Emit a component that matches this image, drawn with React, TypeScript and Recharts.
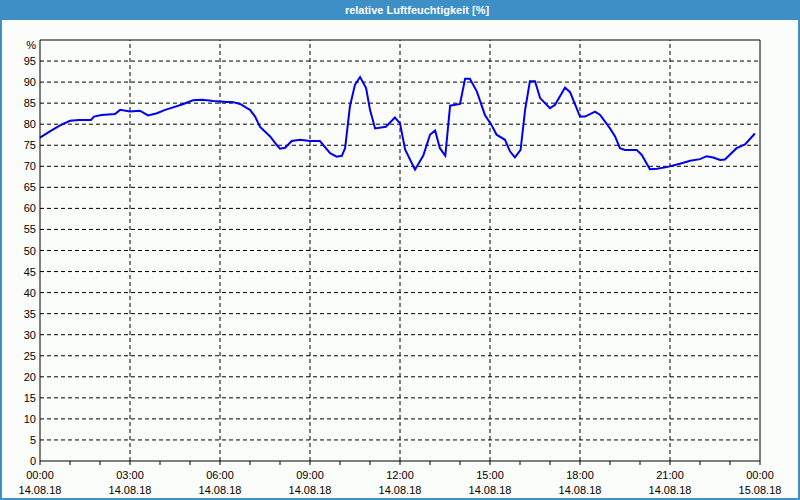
import React from "react";
import {
  LineChart,
  Line,
  XAxis,
  YAxis,
  CartesianGrid,
  ReferenceLine,
} from "recharts";

// Stunden seit 14.08.18 00:00
const hours = [
  0, 0.33, 0.67, 1.0, 1.3, 1.7, 1.8, 2.05, 2.5, 2.67, 3.0, 3.33, 3.6, 3.9, 4.17,
  4.44, 4.78, 5.1, 5.4, 5.78, 6.22, 6.4, 6.67, 6.9, 7.0, 7.17, 7.33, 7.67, 7.9,
  8.0, 8.17, 8.39, 8.67, 9.0, 9.33, 9.67, 9.89, 10.06, 10.17, 10.33, 10.5, 10.67,
  10.87, 11.0, 11.17, 11.53, 11.83, 12.0, 12.17, 12.5, 12.78, 13.0, 13.17, 13.33,
  13.51, 13.67, 14.0, 14.17, 14.33, 14.56, 14.83, 15.05, 15.22, 15.5, 15.67,
  15.83, 16.02, 16.17, 16.33, 16.5, 16.67, 17.0, 17.17, 17.5, 17.67, 18.0, 18.17,
  18.5, 18.67, 19.0, 19.17, 19.33, 19.5, 19.89, 20.06, 20.33, 20.56, 20.89,
  21.33, 21.67, 22.0, 22.22, 22.44, 22.67, 22.83, 23.22, 23.5, 23.83,
];

const humidity = [
  76.8, 78.3, 79.7, 80.8, 81.0, 81.0, 81.8, 82.2, 82.4, 83.4, 83.0, 83.2, 82.1,
  82.6, 83.4, 84.0, 84.8, 85.7, 85.8, 85.5, 85.3, 85.3, 84.8, 83.8, 83.4, 81.8,
  79.4, 77.1, 75.0, 74.2, 74.4, 76.0, 76.3, 76.0, 76.0, 73.1, 72.3, 72.5, 74.3,
  84.2, 89.4, 91.2, 88.6, 83.4, 79.0, 79.4, 81.6, 80.2, 74.0, 69.2, 72.6, 77.5,
  78.5, 74.3, 72.5, 84.4, 84.8, 90.8, 90.8, 87.8, 82.2, 79.8, 77.5, 76.3, 73.5,
  72.1, 73.9, 83.4, 90.2, 90.2, 86.2, 83.8, 84.6, 88.7, 87.6, 81.8, 81.8, 83.0,
  82.2, 79.0, 77.1, 74.3, 73.9, 73.9, 72.7, 69.3, 69.4, 69.8, 70.6, 71.3, 71.7,
  72.4, 72.1, 71.5, 71.6, 74.3, 75.2, 77.8,
];

const xTicks = Array.from({ length: 25 }, (_, i) => i);
const gridHours = [3, 6, 9, 12, 15, 18, 21];
const yTicks = Array.from({ length: 21 }, (_, i) => i * 5);

const timeLabel = (h: number) => `${String(h % 24).padStart(2, "0")}:00`;
const dateLabel = (h: number) => (h >= 24 ? "15.08.18" : "14.08.18");

const data = hours.map((h, i) => ({ h, v: humidity[i] }));

const FONT = "'Liberation Sans', Arial, sans-serif";

function XTick({ x, y, payload }: any) {
  const h = payload.value as number;
  if (h % 3 !== 0) return null;
  return (
    <g>
      <text x={x} y={y + 12} textAnchor="middle" fontSize={11} fontFamily={FONT} fill="#000">
        {timeLabel(h)}
      </text>
      <text x={x} y={y + 27} textAnchor="middle" fontSize={11} fontFamily={FONT} fill="#000">
        {dateLabel(h)}
      </text>
    </g>
  );
}

function YTick({ x, y, payload }: any) {
  const v = payload.value as number;
  return (
    <text
      x={x}
      y={v === 100 ? y + 9 : y + 4}
      textAnchor="end"
      fontSize={11}
      fontFamily={FONT}
      fill="#000"
    >
      {v === 100 ? "%" : v}
    </text>
  );
}

export default function App() {
  return (
    <div
      style={{
        position: "absolute",
        left: 0,
        top: 0,
        width: 800,
        height: 500,
        boxSizing: "border-box",
        background: "#fbfdfb",
        borderLeft: "2px solid #3d8fc6",
        borderRight: "2px solid #3d8fc6",
        borderBottom: "2px solid #3d8fc6",
      }}
    >
      <div
        style={{
          height: 20,
          lineHeight: "20px",
          background: "#3d8fc6",
          color: "#fff",
          fontFamily: FONT,
          fontWeight: "bold",
          fontSize: 11,
          textAlign: "center",
          paddingLeft: 34,
          margin: "0 -2px",
        }}
      >
        relative Luftfeuchtigkeit [%]
      </div>
      <LineChart
        width={796}
        height={478}
        data={data}
        margin={{ top: 20, right: 38, bottom: 0, left: 0 }}
      >
        <CartesianGrid
          vertical={false}
          stroke="#000"
          strokeDasharray="4 3"
          horizontalValues={yTicks.filter((t) => t > 0 && t < 100)}
        />
        {gridHours.map((h) => (
          <ReferenceLine key={h} x={h} stroke="#000" strokeDasharray="4 3" />
        ))}
        <ReferenceLine y={100} stroke="#000" />
        <ReferenceLine x={24} stroke="#000" />
        <XAxis
          dataKey="h"
          type="number"
          domain={[0, 24]}
          ticks={xTicks}
          interval={0}
          height={37}
          tickSize={4}
          tickMargin={2}
          axisLine={{ stroke: "#000" }}
          tickLine={{ stroke: "#000" }}
          tick={<XTick />}
        />
        <YAxis
          type="number"
          domain={[0, 100]}
          ticks={yTicks}
          interval={0}
          width={38}
          tickSize={0}
          tickMargin={4}
          axisLine={{ stroke: "#000" }}
          tickLine={false}
          tick={<YTick />}
        />
        <Line
          type="linear"
          dataKey="v"
          stroke="#0000ee"
          strokeWidth={2}
          dot={false}
          isAnimationActive={false}
        />
      </LineChart>
    </div>
  );
}
